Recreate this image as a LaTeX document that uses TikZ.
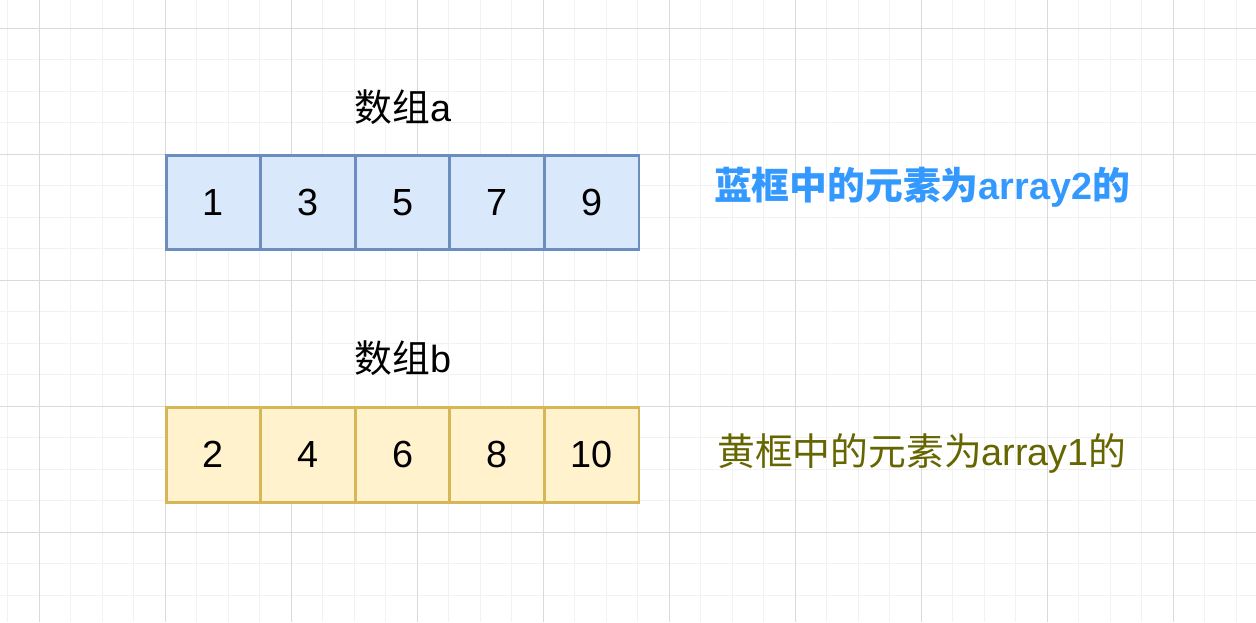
\documentclass[tikz,border=0pt]{standalone}
\usepackage{fontspec}
\setmainfont{Liberation Sans}
\newfontfamily\cjk{Noto Sans CJK SC}
\usepackage{tikz}

\definecolor{gridminor}{HTML}{F2F2F2}
\definecolor{gridmajor}{HTML}{DADADA}
\definecolor{blueline}{HTML}{6C8EBF}
\definecolor{bluefill}{HTML}{DAE8FC}
\definecolor{yellowline}{HTML}{D6B656}
\definecolor{yellowfill}{HTML}{FFF2CC}
\definecolor{bluetext}{HTML}{3399FF}
\definecolor{olivetext}{HTML}{666600}

\begin{document}
\begin{tikzpicture}[x=0.02cm, y=-0.02cm,
	every node/.style={font=\fontsize{21.5}{25}\selectfont},
	cell/.style={draw, line width=1.7pt, inner sep=0pt, minimum width=1.892cm, minimum height=1.89cm}]
	\useasboundingbox[fill=white] (0,0) rectangle (1256,622);
	\foreach \k in {0,...,39}
		\draw[gridminor, line width=0.6pt] ({7.8+31.5*\k},0) -- ({7.8+31.5*\k},622);
	\foreach \k in {0,...,18}
		\draw[gridminor, line width=0.6pt] (0,{28.3+31.5*\k}) -- (1256,{28.3+31.5*\k});
	\foreach \k in {0,...,9}
		\draw[gridmajor, line width=0.6pt] ({39.3+126*\k},0) -- ({39.3+126*\k},622);
	\foreach \k in {0,...,4}
		\draw[gridmajor, line width=0.6pt] (0,{28.3+126*\k}) -- (1256,{28.3+126*\k});
	% array a
	\node (la) at (403,107) {{\cjk 数组}a};
	\foreach \v [count=\i] in {1,3,5,7,9}
		\node[cell, draw=blueline, fill=bluefill] (a\i) at ({118.7+94.6*\i},202.3) {\v};
	\node[text=bluetext, font=\fontsize{21.5}{25}\selectfont\bfseries] (ta) at (922,187.5) {{\cjk\bfseries 蓝框中的元素为}array2{\cjk\bfseries 的}};
	% array b
	\node (lb) at (403,358) {{\cjk 数组}b};
	\foreach \v [count=\i] in {2,4,6,8,10}
		\node[cell, draw=yellowline, fill=yellowfill] (b\i) at ({118.7+94.6*\i},454.8) {\v};
	\node[text=olivetext] (tb) at (922,453.5) {{\cjk 黄框中的元素为}array1{\cjk 的}};
\end{tikzpicture}
\end{document}
